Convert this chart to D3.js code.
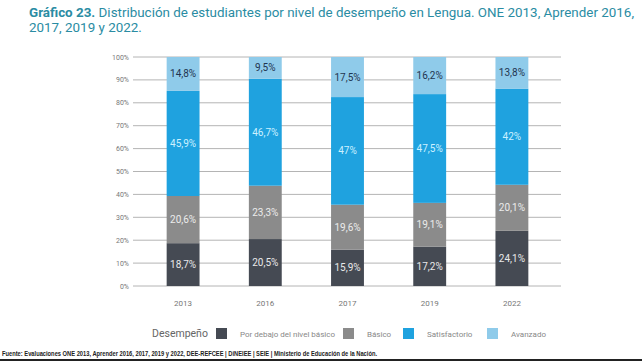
<!DOCTYPE html>
<html>
<head>
<meta charset="utf-8">
<script src="https://cdn.jsdelivr.net/npm/d3@7"></script>
<style>
  body { margin: 0; background: #fff; }
  svg { display: block; font-family: Roboto, "Noto Sans", sans-serif; }
</style>
</head>
<body>
<svg id="chart" width="642" height="361"></svg>
<script>
// ---- data ----
const years = ['2013', '2016', '2017', '2019', '2022'];
const levels = ['Por debajo del nivel básico', 'Básico', 'Satisfactorio', 'Avanzado'];
const belowBasic = [18.7, 20.5, 15.9, 17.2, 24.1];
const basic = [20.6, 23.3, 19.6, 19.1, 20.1];
const satisfactory = [45.9, 46.7, 47, 47.5, 42];
const advanced = [14.8, 9.5, 17.5, 16.2, 13.8];
const yTicks = [0, 10, 20, 30, 40, 50, 60, 70, 80, 90, 100];

const colors = ['#454a53', '#8b8b8b', '#1fa2df', '#8fcbea'];
const labelColors = ['#e9e9ea', '#ececec', '#cdf1ff', '#1f3550'];

const svg = d3.select('#chart');

// title
const title = svg.append('text').attr('x', 29).attr('y', 17)
  .attr('font-size', 13.4).attr('fill', '#2a8ca3');
title.append('tspan').attr('font-weight', 700).text('Gráfico 23.');
title.append('tspan').text(' Distribución de estudiantes por nivel de desempeño en Lengua. ONE 2013, Aprender 2016,');
svg.append('text').attr('x', 29).attr('y', 32)
  .attr('font-size', 13.4).attr('fill', '#2a8ca3')
  .text('2017, 2019 y 2022.');

// scales
const x = d3.scaleBand().domain(years).range([142, 553]).paddingInner(0.6).paddingOuter(0.3);
const y = d3.scaleLinear().domain([0, 100]).range([286, 57]);

// grid + y ticks
svg.append('g').selectAll('line').data(yTicks).join('line')
  .attr('x1', 133).attr('x2', 561)
  .attr('y1', d => y(d)).attr('y2', d => y(d))
  .attr('stroke', '#b4b4b4').attr('stroke-width', 1);
svg.append('g').selectAll('text').data(yTicks).join('text')
  .attr('x', 129).attr('y', d => y(d) + 2.5)
  .attr('text-anchor', 'end').attr('font-size', 7).attr('fill', '#777')
  .text(d => d + '%');

// stacked bars
const rows = years.map((yr, i) => ({ year: yr, l0: belowBasic[i], l1: basic[i], l2: satisfactory[i], l3: advanced[i] }));
const stack = d3.stack().keys(['l0', 'l1', 'l2', 'l3'])(rows);
const fmt = v => String(v).replace('.', ',') + '%'; // comma decimals as in the source

stack.forEach((s, k) => {
  const g = svg.append('g');
  g.selectAll('rect').data(s).join('rect')
    .attr('x', d => x(d.data.year))
    .attr('width', x.bandwidth())
    .attr('y', d => y(d[1]))
    .attr('height', d => y(d[0]) - y(d[1]))
    .attr('fill', colors[k]);
  g.selectAll('text').data(s).join('text')
    .attr('x', d => x(d.data.year) + x.bandwidth() / 2)
    .attr('y', d => (y(d[0]) + y(d[1])) / 2 + 3.5)
    .attr('text-anchor', 'middle').attr('font-size', 10)
    .attr('fill', labelColors[k])
    .text(d => fmt(d.data[s.key]));
});

// x labels
svg.append('g').selectAll('text').data(years).join('text')
  .attr('x', d => x(d) + x.bandwidth() / 2).attr('y', 306)
  .attr('text-anchor', 'middle').attr('font-size', 8).attr('fill', '#777')
  .text(d => d);

// legend
svg.append('text').attr('x', 152).attr('y', 337).attr('font-size', 10.5).attr('fill', '#666').text('Desempeño');
const legX = [216, 343, 403, 487];
levels.forEach((lv, i) => {
  svg.append('rect').attr('x', legX[i]).attr('y', 328).attr('width', 11).attr('height', 11).attr('fill', colors[i]);
  svg.append('text').attr('x', legX[i] + 24).attr('y', 336.5)
    .attr('font-size', 8).attr('fill', '#888').text(lv);
});

// source
svg.append('text').attr('x', 2).attr('y', 356)
  .attr('font-size', 7).attr('font-weight', 700).attr('fill', '#222')
  .attr('font-family', '"Liberation Sans Narrow", "Liberation Sans", sans-serif')
  .attr('textLength', 375).attr('lengthAdjust', 'spacingAndGlyphs')
  .text('Fuente: Evaluaciones ONE 2013, Aprender 2016, 2017, 2019 y 2022, DEE-REFCEE | DiNEIEE | SEIE | Ministerio de Educación de la Nación.');
svg.append('rect').attr('x', 0).attr('y', 359).attr('width', 642).attr('height', 2).attr('fill', '#222');
</script>
</body>
</html>
